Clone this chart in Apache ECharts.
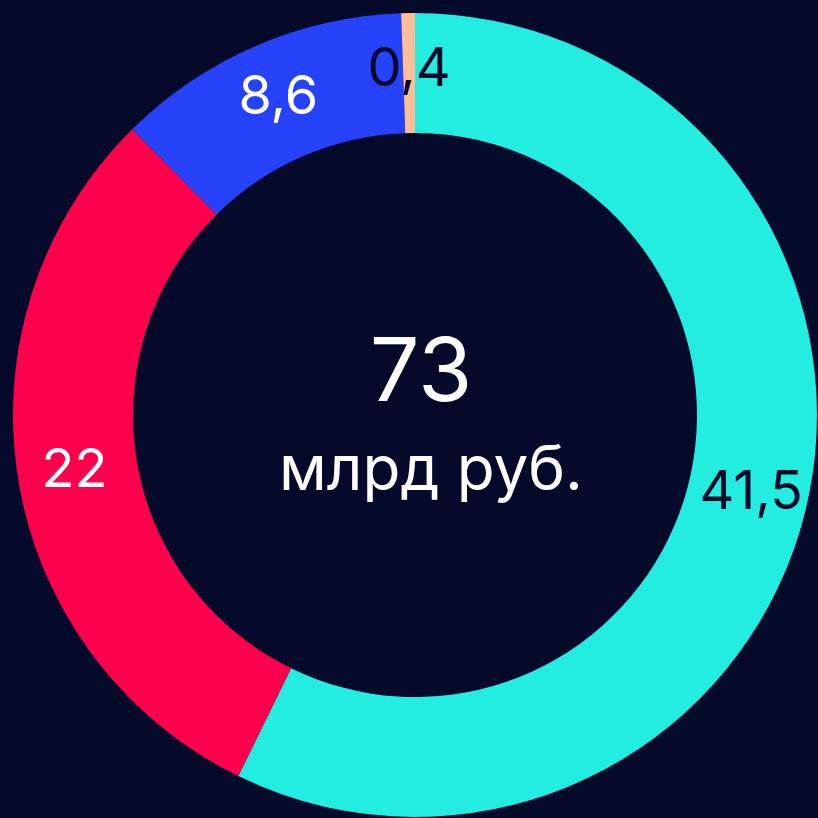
<!DOCTYPE html>
<html>
<head>
<meta charset="utf-8">
<script src="https://cdn.jsdelivr.net/npm/echarts@6/dist/echarts.min.js"></script>
<style>
  html, body { margin: 0; padding: 0; background: #050a2b; }
  #chart { width: 818px; height: 818px; }
</style>
</head>
<body>
<div id="chart"></div>
<script>
// данные кольцевой диаграммы
const values = [41.5, 22, 8.6, 0.4];
const labels = ['41,5', '22', '8,6', '0,4'];
const colors = ['#22ede0', '#ff004c', '#2642fa', '#ffbe9a'];
const labelColors = ['#050a2b', '#ffffff', '#ffffff', '#050a2b'];
const totalText = '73';
const unitText = 'млрд руб.';

const bg = '#050a2b';
const font = 'Inter, "Noto Sans", sans-serif';

const chart = echarts.init(document.getElementById('chart'));

chart.setOption({
    backgroundColor: bg,
    animation: false,
    title: [
        {
            text: totalText,
            left: 421,
            top: 331,
            padding: 0,
            textAlign: 'center',
            textStyle: { color: '#ffffff', fontFamily: font, fontSize: 88, fontWeight: 400 }
        },
        {
            text: unitText,
            left: 431,
            top: 440,
            padding: 0,
            textAlign: 'center',
            textStyle: { color: '#ffffff', fontFamily: font, fontSize: 62, fontWeight: 400 }
        }
    ],
    series: [
        {
            type: 'pie',
            center: [415, 415],
            radius: [282, 402],
            startAngle: 90,
            clockwise: true,
            silent: true,
            itemStyle: { borderWidth: 0 },
            label: {
                show: true,
                position: 'inside',
                fontFamily: font,
                fontSize: 54,
                formatter: p => labels[p.dataIndex]
            },
            labelLine: { show: false },
            data: values.map((v, i) => ({
                value: v,
                itemStyle: { color: colors[i] },
                label: { color: labelColors[i] }
            }))
        }
    ]
});
</script>
</body>
</html>
